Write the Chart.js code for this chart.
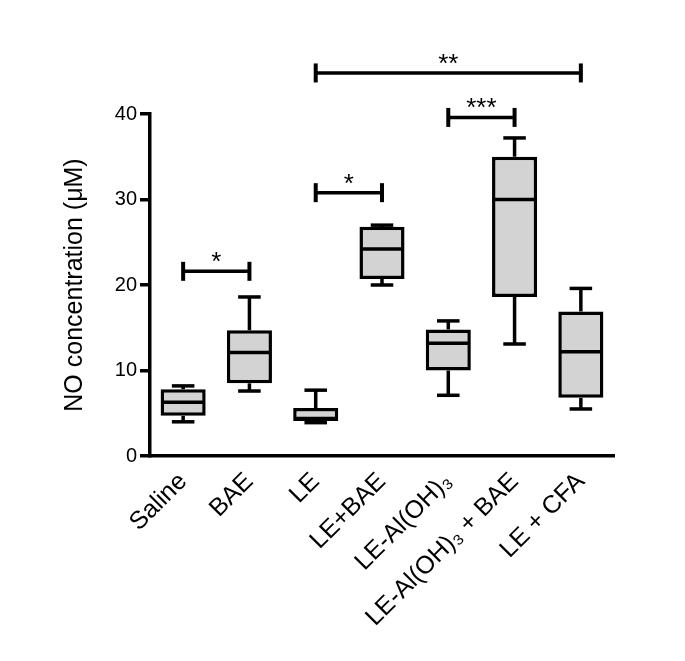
<!DOCTYPE html>
<html>
<head>
<meta charset="utf-8">
<script src="https://cdn.jsdelivr.net/npm/chart.js@4"></script>
<style>
  body { margin: 0; background: #fff; }
</style>
</head>
<body>
<canvas id="chart" width="685" height="661"></canvas>
<script>
// box plot data (NO concentration, µM)
const categories = ["Saline", "BAE", "LE", "LE+BAE", "LE-Al(OH)₃", "LE-Al(OH)₃ + BAE", "LE + CFA"];
const whiskerMin = [4.0, 7.6, 3.9, 20.0, 7.1, 13.1, 5.5];
const q1 = [4.7, 8.5, 4.1, 20.7, 10.0, 18.6, 6.8];
const median = [6.3, 12.1, 4.4, 24.2, 13.2, 30.0, 12.2];
const q3 = [7.8, 14.7, 5.6, 26.8, 14.8, 35.0, 16.9];
const whiskerMax = [8.2, 18.6, 7.7, 27.0, 15.8, 37.2, 19.6];

// significance brackets
const bracketFrom = [0, 2, 4, 2];
const bracketTo = [1, 3, 5, 6];
const bracketY = [21.6, 30.8, 39.6, 44.8];
const bracketLabel = ["*", "*", "***", "**"];

const yTicks = [0, 10, 20, 30, 40];

const FONT = "'Liberation Sans', Arial, Helvetica, sans-serif";
const LW = 3.5;

function line(ctx, x1, y1, x2, y2) {
  ctx.beginPath();
  ctx.moveTo(x1, y1);
  ctx.lineTo(x2, y2);
  ctx.stroke();
}

const boxExtras = {
  id: "boxExtras",
  afterDatasetsDraw(chart) {
    const { ctx, scales: { x, y } } = chart;
    const meta = chart.getDatasetMeta(0);
    ctx.save();
    ctx.strokeStyle = "#000";
    ctx.lineWidth = LW;
    meta.data.forEach((bar, i) => {
      const cx = x.getPixelForValue(i);
      const half = bar.width / 2;
      const cap = bar.width * 0.25;
      const yMax = y.getPixelForValue(whiskerMax[i]);
      const yMin = y.getPixelForValue(whiskerMin[i]);
      line(ctx, cx, y.getPixelForValue(q3[i]), cx, yMax);
      line(ctx, cx - cap, yMax, cx + cap, yMax);
      line(ctx, cx, y.getPixelForValue(q1[i]), cx, yMin);
      line(ctx, cx - cap, yMin, cx + cap, yMin);
      const ym = y.getPixelForValue(median[i]);
      line(ctx, cx - half + 1, ym, cx + half - 1, ym);
    });
    ctx.restore();
  },
  afterDraw(chart) {
    const { ctx, scales: { x, y } } = chart;
    ctx.save();
    ctx.strokeStyle = "#000";
    ctx.fillStyle = "#000";
    bracketFrom.forEach((from, i) => {
      const x1 = x.getPixelForValue(from);
      const x2 = x.getPixelForValue(bracketTo[i]);
      const yy = y.getPixelForValue(bracketY[i]);
      ctx.lineWidth = LW;
      line(ctx, x1, yy, x2, yy);
      ctx.lineWidth = 4;
      line(ctx, x1, yy - 9.5, x1, yy + 9.5);
      line(ctx, x2, yy - 9.5, x2, yy + 9.5);
      ctx.font = "26px " + FONT;
      ctx.textAlign = "center";
      ctx.textBaseline = "alphabetic";
      ctx.fillText(bracketLabel[i], (x1 + x2) / 2, yy - 1);
    });
    ctx.restore();
  }
};

new Chart(document.getElementById("chart"), {
  type: "bar",
  data: {
    labels: categories,
    datasets: [{
      data: q1.map((v, i) => [v, q3[i]]),
      backgroundColor: "#d3d3d3",
      borderColor: "#000",
      borderWidth: LW,
      borderSkipped: false,
      barPercentage: 0.68,
      categoryPercentage: 1
    }]
  },
  options: {
    responsive: false,
    animation: false,
    layout: { padding: { top: 114, right: 71, bottom: 0, left: 0 } },
    plugins: { legend: { display: false }, tooltip: { enabled: false } },
    scales: {
      x: {
        grid: { display: false },
        border: { display: true, color: "#000", width: LW },
        ticks: {
          color: "#000",
          font: { family: FONT, size: 25 },
          minRotation: 45,
          maxRotation: 45,
          autoSkip: false,
          padding: 3
        },
        afterFit: s => { s.height = 205; }
      },
      y: {
        min: 0,
        max: 40,
        afterBuildTicks: s => { s.ticks = yTicks.map(v => ({ value: v })); },
        grid: { drawOnChartArea: false, drawTicks: true, tickLength: 10, color: "#000", lineWidth: LW },
        border: { display: true, color: "#000", width: LW },
        ticks: { color: "#000", font: { family: FONT, size: 20 }, padding: 3 },
        title: {
          display: true,
          text: "NO concentration (μM)",
          color: "#000",
          font: { family: FONT, size: 25 },
          padding: { top: 60, bottom: 0 }
        },
        afterFit: s => { s.width = 150; }
      }
    }
  },
  plugins: [boxExtras]
});
</script>
</body>
</html>
